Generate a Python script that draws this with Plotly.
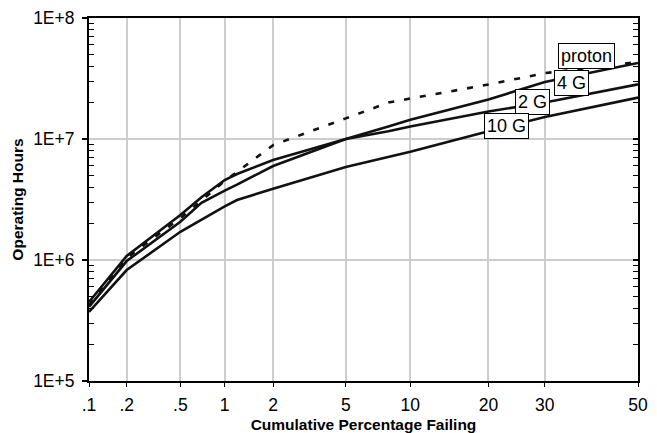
import plotly.graph_objects as go
from statistics import NormalDist

# Cumulative percentage failing (probability-scaled x axis)
pct = [0.1, 0.2, 0.5, 0.7, 1, 1.2, 2, 5, 8, 10, 20, 30, 50]

# Operating hours for each vibration / test condition
hours_proton = [4.25e5, 1.04e6, 2.22e6, 3.13e6, 4.5e6, 5.35e6, 8.9e6, 1.48e7, 2.0e7, 2.16e7, 2.82e7, 3.5e7, 4.33e7]
hours_4g = [4.1e5, 9.8e5, 2.07e6, 2.97e6, 3.75e6, 4.2e6, 5.98e6, 1.0e7, 1.27e7, 1.44e7, 2.12e7, 2.96e7, 4.25e7]
hours_2g = [4.5e5, 1.08e6, 2.35e6, 3.3e6, 4.58e6, 5.14e6, 6.7e6, 1.0e7, 1.16e7, 1.27e7, 1.69e7, 2.0e7, 2.83e7]
hours_10g = [3.72e5, 8.26e5, 1.71e6, 2.17e6, 2.78e6, 3.13e6, 3.88e6, 5.87e6, 7.1e6, 7.85e6, 1.16e7, 1.52e7, 2.2e7]

x_ticks = [0.1, 0.2, 0.5, 1, 2, 5, 10, 20, 30, 50]
x_ticktext = [".1", ".2", ".5", "1", "2", "5", "10", "20", "30", "50"]
y_ticks = [1e5, 1e6, 1e7, 1e8]
y_ticktext = ["1E+5", "1E+6", "1E+7", "1E+8"]

# Series label boxes: (text, percent, log10 hours)
labels = [("proton", 38.6, 7.690), ("4 G", 35.4, 7.460), ("2 G", 27.6, 7.306), ("10 G", 22.9, 7.107)]

nd = NormalDist()


def probit(p):
    return nd.inv_cdf(p / 100.0)


xs = [probit(p) for p in pct]
FONT = "Arial, Liberation Sans, sans-serif"
LINE = "#111111"

fig = go.Figure()
fig.add_trace(go.Scatter(x=xs, y=hours_proton, mode="lines", name="proton",
                         line=dict(color=LINE, width=2.6, dash="6px,10px")))
fig.add_trace(go.Scatter(x=xs, y=hours_4g, mode="lines", name="4 G",
                         line=dict(color=LINE, width=2.6)))
fig.add_trace(go.Scatter(x=xs, y=hours_2g, mode="lines", name="2 G",
                         line=dict(color=LINE, width=2.6)))
fig.add_trace(go.Scatter(x=xs, y=hours_10g, mode="lines", name="10 G", yaxis="y2",
                         line=dict(color=LINE, width=2.6)))

minor_vals = [m * 10 ** e for e in range(5, 8) for m in range(2, 10)]

for text, p, ly in labels:
    fig.add_annotation(x=probit(p), y=ly, xref="x", yref="y", text=text, showarrow=False,
                       bgcolor="white", bordercolor="black", borderwidth=1, borderpad=2,
                       font=dict(family=FONT, size=18, color="black"))

fig.update_layout(
    width=657, height=433,
    margin=dict(l=89, r=19, t=18, b=52),
    paper_bgcolor="white", plot_bgcolor="white",
    showlegend=False,
    xaxis=dict(
        range=[probit(0.1), probit(50)],
        automargin=False,
        tickmode="array", tickvals=[probit(p) for p in x_ticks], ticktext=x_ticktext,
        tickfont=dict(family=FONT, size=17.5, color="black"),
        ticks="outside", ticklen=4, tickcolor="black", tickwidth=1,
        ticklabelstandoff=3,
        showgrid=True, gridcolor="#cdcdcd", gridwidth=1.5,
        showline=True, linecolor="black", linewidth=2, mirror=True,
        zeroline=False,
        title=dict(text="<b>Cumulative Percentage Failing</b>",
                   font=dict(family=FONT, size=15.5, color="black"), standoff=6),
    ),
    yaxis=dict(
        type="log", range=[5, 8],
        automargin=False,
        tickmode="array", tickvals=y_ticks, ticktext=y_ticktext,
        tickfont=dict(family=FONT, size=17.5, color="black"),
        ticks="outside", ticklen=5, tickcolor="black", tickwidth=1.5,
        ticklabelstandoff=4,
        minor=dict(tickmode="array", tickvals=minor_vals, ticks="inside", ticklen=5,
                   tickcolor="black", tickwidth=1.2, showgrid=False),
        showgrid=True, gridcolor="#cdcdcd", gridwidth=1.5,
        showline=True, linecolor="black", linewidth=2, mirror=True,
        zeroline=False,
        title=dict(text="<b>Operating Hours</b>",
                   font=dict(family=FONT, size=15.5, color="black"), standoff=6),
    ),
    yaxis2=dict(
        type="log", range=[5, 8], overlaying="y", side="right", anchor="x",
        automargin=False,
        tickmode="array", tickvals=y_ticks, showticklabels=False,
        ticks="inside", ticklen=5, tickcolor="black", tickwidth=1.5,
        minor=dict(tickmode="array", tickvals=minor_vals, ticks="inside", ticklen=5,
                   tickcolor="black", tickwidth=1.2, showgrid=False),
        showgrid=False, showline=False, zeroline=False,
    ),
)

fig.write_html("out.html")
